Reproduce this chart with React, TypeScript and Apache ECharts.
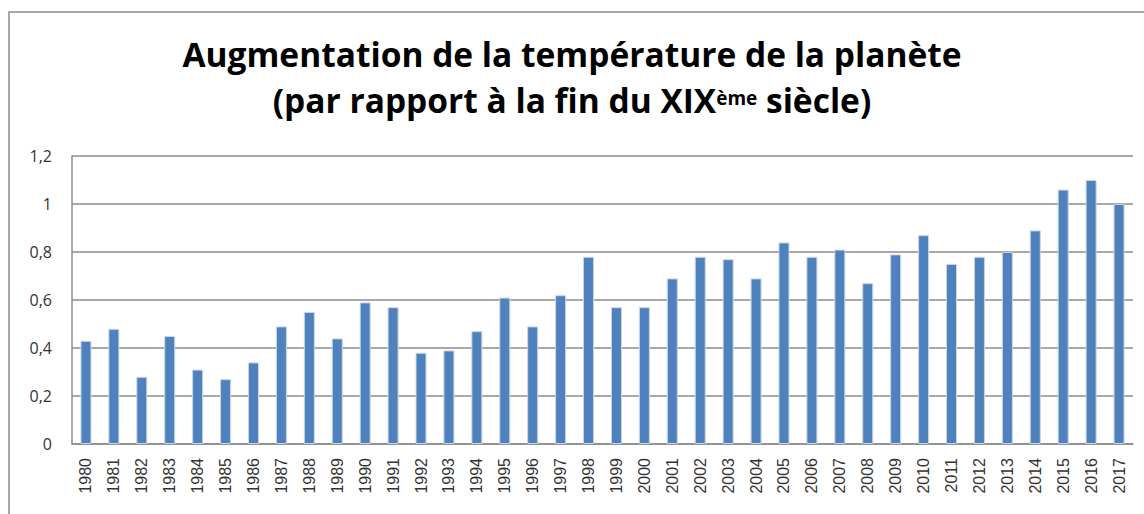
import React, { useEffect, useRef } from "react";
import * as echarts from "echarts";

const years: string[] = [
  "1980", "1981", "1982", "1983", "1984", "1985", "1986", "1987", "1988", "1989",
  "1990", "1991", "1992", "1993", "1994", "1995", "1996", "1997", "1998", "1999",
  "2000", "2001", "2002", "2003", "2004", "2005", "2006", "2007", "2008", "2009",
  "2010", "2011", "2012", "2013", "2014", "2015", "2016", "2017",
];

const anomalies: number[] = [
  0.43, 0.48, 0.28, 0.45, 0.31, 0.27, 0.34, 0.49, 0.55, 0.44,
  0.59, 0.57, 0.38, 0.39, 0.47, 0.61, 0.49, 0.62, 0.78, 0.57,
  0.57, 0.69, 0.78, 0.77, 0.69, 0.84, 0.78, 0.81, 0.67, 0.79,
  0.87, 0.75, 0.78, 0.80, 0.89, 1.06, 1.10, 1.00,
];

const yTicks = { min: 0, max: 1.2, interval: 0.2 };

const titleLine1 = "Augmentation de la température de la planète";
const titleLine2a = "(par rapport à la fin du XIX";
const titleSup = "ème";
const titleLine2b = " siècle)";

export default function App() {
  const ref = useRef<HTMLDivElement>(null);
  useEffect(() => {
    if (!ref.current) return;
    const chart = echarts.init(ref.current, null, { renderer: "svg" });
    const tf = "Open Sans";
    const ts = 33.5;
    chart.setOption({
      animation: false,
      backgroundColor: "#ffffff",
      title: {
        text: titleLine1 + "\n{a|" + titleLine2a + "}{sup|" + titleSup + "}{a|" + titleLine2b + "}",
        left: "center",
        top: 27,
        padding: [5, 5, 5, 19],
        itemGap: 0,
        textStyle: {
          fontFamily: tf,
          fontWeight: "bold",
          fontSize: ts,
          lineHeight: 44,
          color: "#000000",
          rich: {
            a: {
              fontFamily: tf,
              fontWeight: "bold",
              fontSize: ts,
              lineHeight: 47,
              color: "#000000",
            },
            sup: {
              fontFamily: tf,
              fontWeight: "bold",
              fontSize: 19,
              lineHeight: 19,
              verticalAlign: "top",
              padding: [12, 0, 0, 0],
              color: "#000000",
            },
          },
        },
      },
      graphic: [
        {
          type: "rect",
          shape: { x: 9, y: 12, width: 1300, height: 700 },
          style: { fill: "none", stroke: "#8c8c8c", lineWidth: 1.5 },
          silent: true,
          z: 100,
        },
      ],
      grid: { left: 72, right: 11, top: 156, bottom: 70 },
      xAxis: {
        type: "category",
        data: years,
        axisLine: { show: true, lineStyle: { color: "#8c8c8c", width: 1.5 } },
        axisTick: { show: false },
        axisLabel: {
          rotate: 90,
          interval: 0,
          margin: 14,
          fontFamily: "Liberation Sans",
          fontSize: 16,
          color: "#333333",
        },
      },
      yAxis: {
        type: "value",
        min: yTicks.min,
        max: yTicks.max,
        interval: yTicks.interval,
        axisLine: { show: true, lineStyle: { color: "#8c8c8c", width: 1.5 } },
        axisTick: { show: false },
        splitLine: { show: true, lineStyle: { color: "#8c8c8c", width: 1.5 } },
        axisLabel: {
          margin: 20,
          fontFamily: "Open Sans",
          fontSize: 16,
          color: "#333333",
          formatter: (v: number) => String(Math.round(v * 10) / 10).replace(".", ","),
        },
      },
      series: [
        {
          type: "bar",
          data: anomalies,
          barWidth: 11,
          itemStyle: {
            color: "#4f81bd",
            borderColor: "#c6d6ea",
            borderWidth: 1,
          },
        },
      ],
    });
    return () => chart.dispose();
  }, []);
  return (
    <div
      ref={ref}
      style={{ position: "absolute", left: 0, top: 0, width: 1144, height: 514 }}
    />
  );
}
